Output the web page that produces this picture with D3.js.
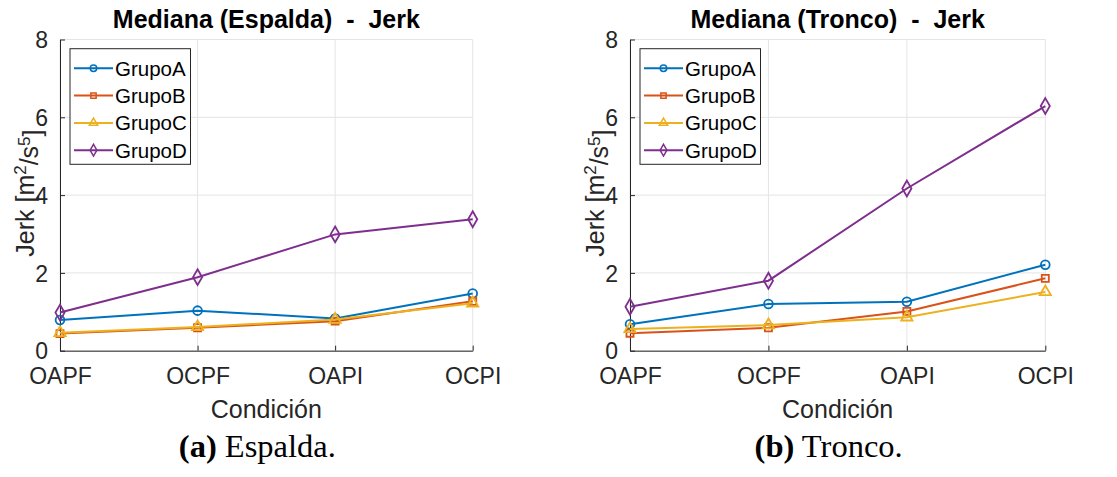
<!DOCTYPE html>
<html>
<head>
<meta charset="utf-8">
<script src="https://cdn.jsdelivr.net/npm/d3@7"></script>
<style>
  body { margin: 0; background: white; }
  svg { display: block; }
  text { font-family: "Liberation Sans", Arial, sans-serif; }
</style>
</head>
<body>
<script>
// categories and groups
const conditions = ["OAPF", "OCPF", "OAPI", "OCPI"];
const groups = ["GrupoA", "GrupoB", "GrupoC", "GrupoD"];
const yTicks = [0, 2, 4, 6, 8];

// Espalda medians
const espaldaA = [0.79, 1.03, 0.83, 1.47];
const espaldaB = [0.44, 0.59, 0.76, 1.27];
const espaldaC = [0.46, 0.61, 0.80, 1.22];
const espaldaD = [0.98, 1.89, 2.99, 3.38];

// Tronco medians
const troncoA = [0.68, 1.20, 1.26, 2.21];
const troncoB = [0.45, 0.59, 1.01, 1.86];
const troncoC = [0.56, 0.66, 0.86, 1.51];
const troncoD = [1.13, 1.80, 4.17, 6.29];

const colors = ["#0072BD", "#D95319", "#EDB120", "#7E2F8E"];
const symbols = [d3.symbolCircle, d3.symbolSquare, d3.symbolTriangle, d3.symbolDiamond];
const symSizes = [60, 50, 55, 72];
const ink = "#262626";

const width = 1117, height = 477;
const svg = d3.create("svg").attr("width", width).attr("height", height);

function panel(left, right, title, caption, captionBold, series) {
  const top = 39.5, bottom = 350.7;
  const x = d3.scalePoint().domain(conditions).range([left, right]);
  const y = d3.scaleLinear().domain([0, 8]).range([bottom, top]);
  const g = svg.append("g");

  // grid
  g.append("g").selectAll("line.v").data(conditions).join("line")
    .attr("x1", d => x(d)).attr("x2", d => x(d))
    .attr("y1", top).attr("y2", bottom)
    .attr("stroke", "#e4e4e4").attr("stroke-width", 1);
  g.append("g").selectAll("line.h").data(yTicks).join("line")
    .attr("x1", left).attr("x2", right)
    .attr("y1", d => y(d)).attr("y2", d => y(d))
    .attr("stroke", "#e4e4e4").attr("stroke-width", 1);

  // axes, ticks inward
  const xAxis = g.append("g").attr("transform", `translate(0,${bottom})`)
    .call(d3.axisBottom(x).tickSizeInner(-5).tickSizeOuter(0).tickPadding(17));
  const yAxis = g.append("g").attr("transform", `translate(${left},0)`)
    .call(d3.axisLeft(y).tickValues(yTicks).tickSizeInner(-5).tickSizeOuter(0).tickPadding(12));
  [xAxis, yAxis].forEach(a => {
    a.select(".domain").attr("stroke", ink);
    a.selectAll(".tick line").attr("stroke", ink);
    a.selectAll(".tick text").attr("fill", ink)
      .style("font-size", "23px").style("font-family", "'Liberation Sans', Arial, sans-serif");
  });
  xAxis.selectAll(".tick text").attr("dy", "0.71em");
  yAxis.selectAll(".tick text").attr("dy", "0.36em");

  // lines + markers
  const line = d3.line().x((d, i) => x(conditions[i])).y(d => y(d));
  series.forEach((vals, k) => {
    g.append("path").datum(vals)
      .attr("d", line).attr("fill", "none")
      .attr("stroke", colors[k]).attr("stroke-width", 2);
    g.append("g").selectAll("path").data(vals).join("path")
      .attr("transform", (d, i) => `translate(${x(conditions[i])},${y(d)})`)
      .attr("d", d3.symbol(symbols[k], symSizes[k]))
      .attr("fill", "none").attr("stroke", colors[k]).attr("stroke-width", 1.8);
  });

  // legend
  const lx = left + 10, ly = 48.7, lw = 120.5, lh = 115.6;
  const leg = g.append("g");
  leg.append("rect").attr("x", lx).attr("y", ly).attr("width", lw).attr("height", lh)
    .attr("fill", "white").attr("stroke", ink).attr("stroke-width", 1);
  groups.forEach((name, k) => {
    const yy = ly + 19.6 + k * 27.3;
    leg.append("line").attr("x1", lx + 4).attr("x2", lx + 43).attr("y1", yy).attr("y2", yy)
      .attr("stroke", colors[k]).attr("stroke-width", 2);
    leg.append("path").attr("transform", `translate(${lx + 23.5},${yy})`)
      .attr("d", d3.symbol(symbols[k], symSizes[k] * 0.55))
      .attr("fill", "none").attr("stroke", colors[k]).attr("stroke-width", 1.5);
    leg.append("text").attr("x", lx + 45).attr("y", yy).attr("dy", "0.36em")
      .style("font-size", "20.5px").attr("fill", "black").text(name);
  });

  const cx = (left + right) / 2;
  // title
  g.append("text").attr("x", cx).attr("y", 27.5).attr("text-anchor", "middle")
    .style("font-size", "25px").style("font-weight", "bold").style("white-space", "pre")
    .attr("fill", "black").text(title);
  // x label
  g.append("text").attr("x", cx).attr("y", 418).attr("text-anchor", "middle")
    .style("font-size", "25px").attr("fill", ink).text("Condición");
  // y label
  const yl = g.append("text")
    .attr("transform", `translate(${left - 26},${(top + bottom) / 2 - 2}) rotate(-90)`)
    .attr("text-anchor", "middle").style("font-size", "25px").attr("fill", ink);
  yl.append("tspan").text("Jerk [m");
  yl.append("tspan").attr("dy", "-0.45em").style("font-size", "17px").text("2");
  yl.append("tspan").attr("dy", "0.45em").text("/s");
  yl.append("tspan").attr("dy", "-0.45em").style("font-size", "17px").text("5");
  yl.append("tspan").attr("dy", "0.45em").text("]");
  // caption
  const cap = g.append("text").attr("x", cx - 9).attr("y", 457).attr("text-anchor", "middle")
    .style("font-size", "32.5px").style("font-family", "'Liberation Serif', 'Times New Roman', serif")
    .attr("fill", "black");
  cap.append("tspan").style("font-weight", "bold").style("font-family", "'Liberation Serif', serif").text(captionBold);
  cap.append("tspan").style("font-family", "'Liberation Serif', serif").text(" " + caption);
}

panel(60, 472.7, "Mediana (Espalda)  -  Jerk", "Espalda.", "(a)",
  [espaldaA, espaldaB, espaldaC, espaldaD]);
panel(630, 1045.3, "Mediana (Tronco)  -  Jerk", "Tronco.", "(b)",
  [troncoA, troncoB, troncoC, troncoD]);

document.body.appendChild(svg.node());
</script>
</body>
</html>
